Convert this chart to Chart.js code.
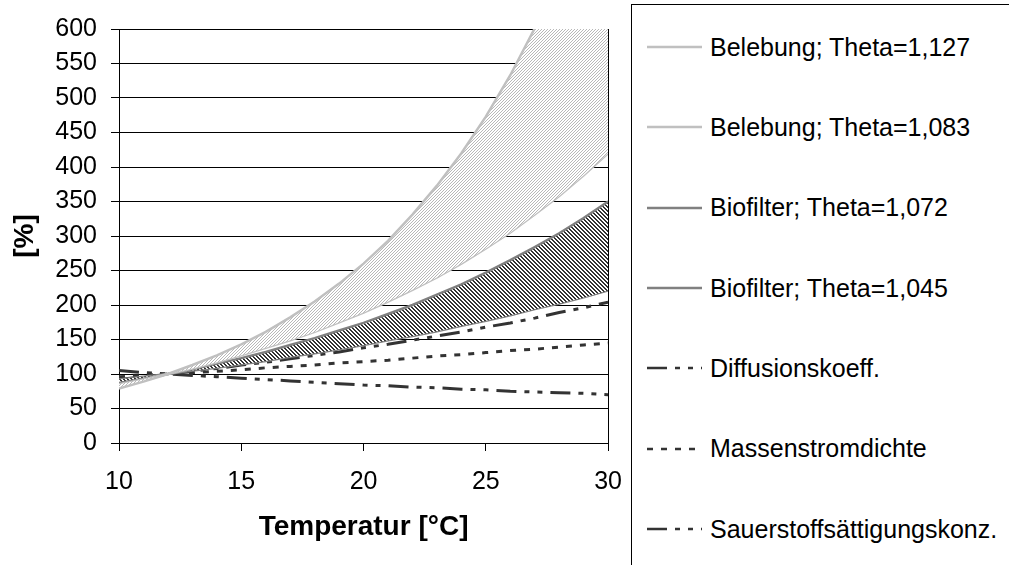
<!DOCTYPE html>
<html lang="de">
<head>
  <meta charset="UTF-8">
  <title>Temperaturabhängigkeit</title>
  <script src="https://cdn.jsdelivr.net/npm/chart.js"></script>
  <style>
    body {
      margin: 0;
      width: 1009px;
      height: 565px;
      overflow: hidden;
      background: #fff;
      font-family: 'Liberation Sans', Arial, sans-serif;
    }

    #chart-box {
      position: absolute;
      left: 0;
      top: 0;
      width: 638px;
      height: 565px;
    }

    #legend-box {
      position: absolute;
      left: 631px;
      top: 4px;
      width: 420px;
      height: 600px;
      border-left: 1px solid #000;
      border-top: 1px solid #000;
      background: #fff;
    }

    #legend {
      list-style: none;
      margin: 0;
      padding: 0;
      position: absolute;
      top: 2px;
      left: 15px;
    }

    #legend li {
      height: 80.33px;
      display: flex;
      align-items: center;
      font-size: 25px;
      color: #000;
      white-space: nowrap;
    }

    #legend svg {
      margin-right: 8px;
    }
  </style>
</head>
<body>
  <div id="chart-box">
    <canvas id="myChart"></canvas>
  </div>
  <div id="legend-box">
    <ul id="legend"></ul>
  </div>

  <script>
    // Temperatur [°C]
    const temperatures = [10, 11, 12, 13, 14, 15, 16, 17, 18, 19, 20, 21, 22, 23, 24, 25, 26, 27, 28, 29, 30];

    // Werte in % (Bezug 12 °C = 100 %)
    const belebung1127 = [79, 89, 100, 113, 127, 143, 161, 182, 205, 231, 260, 293, 331, 373, 420, 473, 533, 601, 677, 763, 860];
    const belebung1083 = [85, 92, 100, 108, 117, 127, 138, 149, 161, 175, 189, 205, 222, 240, 260, 282, 305, 331, 358, 388, 420];
    const biofilter1072 = [87, 93, 100, 107, 115, 123, 132, 142, 152, 163, 174, 187, 200, 215, 230, 247, 265, 284, 304, 326, 350];
    const biofilter1045 = [92, 96, 100, 105, 109, 114, 119, 125, 130, 136, 142, 149, 155, 162, 170, 177, 185, 194, 202, 211, 221];
    const diffusionskoeff = [92, 96, 100, 104, 108, 113, 117, 122, 127, 132, 138, 143, 149, 155, 161, 168, 174, 181, 189, 196, 204];
    const massenstromdichte = [96, 98, 100, 102, 104, 106, 109, 111, 113, 116, 118, 120, 123, 126, 128, 131, 134, 136, 139, 142, 145];
    const sauerstoffsaettigung = [105, 102, 100, 98, 96, 94, 92, 90, 88, 86, 84, 83, 81, 80, 78, 77, 75, 74, 73, 72, 70];

    const seriesNames = [
      'Belebung; Theta=1,127',
      'Belebung; Theta=1,083',
      'Biofilter; Theta=1,072',
      'Biofilter; Theta=1,045',
      'Diffusionskoeff.',
      'Massenstromdichte',
      'Sauerstoffsättigungskonz.'
    ];

    const xMin = 10, xMax = 30, xStep = 5;
    const yMin = 0, yMax = 600, yStep = 50;

    // Schraffur als Canvas-Muster
    function hatch(size, color, dir, width) {
      const c = document.createElement('canvas');
      c.width = size;
      c.height = size;
      const g = c.getContext('2d');
      g.fillStyle = '#fff';
      g.fillRect(0, 0, size, size);
      g.fillStyle = color;
      for (let y = 0; y < size; y++) {
        for (let x = 0; x < size; x++) {
          const k = dir === '/' ? (x + y) % size : ((x - y) % size + size) % size;
          if (k < width) g.fillRect(x, y, 1, 1);
        }
      }
      return g.createPattern(c, 'repeat');
    }

    const lightHatch = hatch(3, '#b8b8b8', '/', 1);
    const darkHatch = hatch(4, '#333333', '\\', 2);

    const pts = vals => temperatures.map((t, i) => ({ x: t, y: vals[i] }));

    const htmlLegend = {
      id: 'htmlLegend',
      afterUpdate(chart) {
        const ul = document.getElementById('legend');
        ul.innerHTML = '';
        const items = chart.options.plugins.legend.labels.generateLabels(chart);
        items.forEach(item => {
          const li = document.createElement('li');
          const dash = (item.lineDash || []).join(' ');
          li.innerHTML =
            `<svg width="55" height="6"><line x1="0" y1="3" x2="55" y2="3" stroke="${item.strokeStyle}"` +
            ` stroke-width="2.5" stroke-dasharray="${dash}"/></svg>`;
          li.appendChild(document.createTextNode(item.text));
          ul.appendChild(li);
        });
      }
    };

    // rechter Rahmen der Zeichenfläche
    const plotFrame = {
      id: 'plotFrame',
      afterDraw(chart) {
        const { ctx, chartArea } = chart;
        ctx.save();
        ctx.strokeStyle = '#000';
        ctx.lineWidth = 1;
        ctx.beginPath();
        ctx.moveTo(Math.round(chartArea.right) + 0.5, chartArea.top);
        ctx.lineTo(Math.round(chartArea.right) + 0.5, chartArea.bottom);
        ctx.stroke();
        ctx.restore();
      }
    };

    Chart.defaults.font.family = "'Liberation Sans', Arial, sans-serif";
    Chart.defaults.color = '#000';

    const ctx = document.getElementById('myChart').getContext('2d');
    const myChart = new Chart(ctx, {
      type: 'line',
      data: {
        datasets: [
          {
            label: seriesNames[0],
            data: pts(belebung1127),
            borderColor: '#c0c0c0',
            borderWidth: 2.5,
            backgroundColor: lightHatch,
            fill: '+1'
          },
          {
            label: seriesNames[1],
            data: pts(belebung1083),
            borderColor: '#c0c0c0',
            borderWidth: 2.5,
            fill: false
          },
          {
            label: seriesNames[2],
            data: pts(biofilter1072),
            borderColor: '#808080',
            borderWidth: 2.5,
            backgroundColor: darkHatch,
            fill: '+1'
          },
          {
            label: seriesNames[3],
            data: pts(biofilter1045),
            borderColor: '#808080',
            borderWidth: 2.5,
            fill: false
          },
          {
            label: seriesNames[4],
            data: pts(diffusionskoeff),
            borderColor: '#333333',
            borderWidth: 3,
            borderDash: [20, 8, 5, 8, 5, 8],
            fill: false
          },
          {
            label: seriesNames[5],
            data: pts(massenstromdichte),
            borderColor: '#333333',
            borderWidth: 3,
            borderDash: [6, 8],
            fill: false
          },
          {
            label: seriesNames[6],
            data: pts(sauerstoffsaettigung),
            borderColor: '#333333',
            borderWidth: 3,
            borderDash: [20, 8, 5, 8, 5, 8],
            fill: false
          }
        ]
      },
      options: {
        responsive: true,
        maintainAspectRatio: false,
        animation: false,
        elements: {
          point: { radius: 0 },
          line: { tension: 0, borderCapStyle: 'butt' }
        },
        layout: {
          padding: { top: 28, right: 4, left: 0, bottom: 0 }
        },
        plugins: {
          legend: { display: false },
          tooltip: { enabled: false }
        },
        scales: {
          x: {
            type: 'linear',
            min: xMin,
            max: xMax,
            ticks: {
              stepSize: xStep,
              padding: 16,
              font: { size: 25 }
            },
            grid: {
              drawOnChartArea: false,
              tickLength: 8,
              color: '#000'
            },
            border: { color: '#000', width: 1 },
            title: {
              display: true,
              text: 'Temperatur [°C]',
              font: { size: 28, weight: 'bold' },
              padding: { top: 0, bottom: 21 }
            },
            afterFit(scale) {
              scale.height = 122;
            }
          },
          y: {
            min: yMin,
            max: yMax,
            ticks: {
              stepSize: yStep,
              padding: 14,
              font: { size: 25 }
            },
            grid: {
              color: '#000',
              lineWidth: 1,
              tickLength: 8
            },
            border: { color: '#000', width: 1 },
            title: {
              display: true,
              text: '[%]',
              font: { size: 28, weight: 'bold' },
              padding: { top: 8, bottom: 0 }
            },
            afterFit(scale) {
              scale.width = 119;
            }
          }
        }
      },
      plugins: [htmlLegend, plotFrame]
    });
  </script>
</body>
</html>
